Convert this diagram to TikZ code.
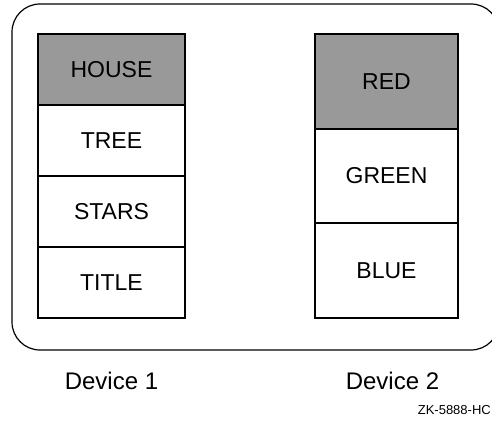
\documentclass[tikz,border=0pt]{standalone}
\usepackage{fontspec}
\setmainfont{Liberation Sans}
\usetikzlibrary{positioning}

\begin{document}
\begin{tikzpicture}[
    x=1pt, y=1pt,
    cell/.style={rectangle, draw, line width=1.8pt, minimum width=147pt, minimum height=71pt,
                 outer sep=0pt, inner sep=0pt, font=\fontsize{23}{26}\selectfont},
    tallcell/.style={cell, minimum width=143pt, minimum height=94.7pt},
    shaded/.style={fill=gray!80},
    devlabel/.style={font=\fontsize{24}{28}\selectfont},
    frame/.style={draw, line width=1.2pt, rounded corners=28pt},
]
    \useasboundingbox (0,0) rectangle (492,421);

    % Outer display frame
    \draw[frame] (12,71) rectangle (499,417);

    % Device 1
    \node[cell, shaded] (house) at (111.5,351.5) {HOUSE};
    \node[cell, below=0pt of house] (tree) {TREE};
    \node[cell, below=0pt of tree] (stars) {STARS};
    \node[cell, below=0pt of stars] (title) {TITLE};

    % Device 2
    \node[tallcell, shaded] (red) at (386.5,339.7) {RED};
    \node[tallcell, below=0pt of red] (green) {GREEN};
    \node[tallcell, below=0pt of green] (blue) {BLUE};

    % Labels
    \node[devlabel, below=51pt of title] (dev1) {Device 1};
    \node[devlabel, below=51pt of blue, xshift=6pt] (dev2) {Device 2};
    \node[anchor=east, font=\fontsize{13}{15}\selectfont, inner sep=0pt] (code) at (491,11) {ZK-5888-HC};
\end{tikzpicture}
\end{document}
